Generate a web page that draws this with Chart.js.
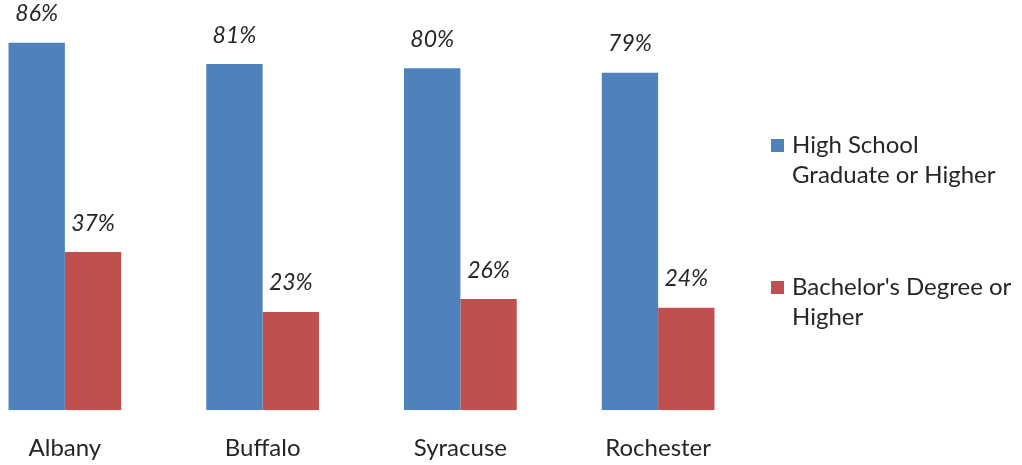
<!DOCTYPE html>
<html>
<head>
<meta charset="utf-8">
<script src="https://cdn.jsdelivr.net/npm/chart.js@4.4.1/dist/chart.umd.min.js"></script>
<style>
  html, body { margin: 0; padding: 0; background: #fff; overflow: hidden; }
  #wrap { position: absolute; left: -34px; top: 0; width: 1056px; height: 491px; }
</style>
</head>
<body>
<div id="wrap"><canvas id="edu"></canvas></div>
<script>
const cities = ['Albany', 'Buffalo', 'Syracuse', 'Rochester'];
const highSchool = [86, 81, 80, 79];
const bachelors = [37, 23, 26, 24];
const seriesLines = [['High School', 'Graduate or Higher'], ["Bachelor's Degree or", 'Higher']];
const seriesColors = ['#4F81BD', '#C0504D'];

const textColor = '#262626';
const fontFamily = 'Lato, "Open Sans", sans-serif';

// percent labels above each bar
const valueLabels = {
    id: 'valueLabels',
    afterDatasetsDraw(chart) {
        const ctx = chart.ctx;
        ctx.save();
        ctx.font = 'italic 23px ' + fontFamily;
        ctx.fillStyle = textColor;
        ctx.textAlign = 'center';
        ctx.textBaseline = 'middle';
        chart.data.datasets.forEach((ds, i) => {
            chart.getDatasetMeta(i).data.forEach((bar, j) => {
                ctx.fillText(ds.data[j] + '%', bar.x, bar.y - 29);
            });
        });
        ctx.restore();
    }
};

// legend on the right with wrapped text
const sideLegend = {
    id: 'sideLegend',
    afterDraw(chart) {
        const ctx = chart.ctx;
        const x = chart.chartArea.right + 14;
        const tops = [145, 287];
        ctx.save();
        ctx.font = '24px ' + fontFamily;
        ctx.textBaseline = 'middle';
        seriesLines.forEach((lines, i) => {
            ctx.fillStyle = seriesColors[i];
            ctx.fillRect(x, tops[i] - 6, 13, 13);
            ctx.fillStyle = textColor;
            lines.forEach((line, k) => {
                ctx.fillText(line, x + 21, tops[i] + k * 30);
            });
        });
        ctx.restore();
    }
};

new Chart(document.getElementById('edu'), {
    type: 'bar',
    data: {
        labels: cities,
        datasets: [{
            label: seriesLines[0].join(' '),
            data: highSchool,
            backgroundColor: seriesColors[0]
        }, {
            label: seriesLines[1].join(' '),
            data: bachelors,
            backgroundColor: seriesColors[1]
        }]
    },
    options: {
        responsive: true,
        maintainAspectRatio: false,
        animation: false,
        layout: {
            padding: { left: 0, right: 265, top: 0, bottom: 4 }
        },
        datasets: {
            bar: {
                categoryPercentage: 0.57,
                barPercentage: 1
            }
        },
        scales: {
            x: {
                grid: { display: false, drawTicks: false },
                border: { display: false },
                ticks: {
                    color: textColor,
                    font: { family: fontFamily, size: 24 },
                    padding: 24
                }
            },
            y: {
                display: false,
                min: 0,
                max: 96
            }
        },
        plugins: {
            legend: { display: false },
            tooltip: { enabled: false }
        }
    },
    plugins: [valueLabels, sideLegend]
});
</script>
</body>
</html>
